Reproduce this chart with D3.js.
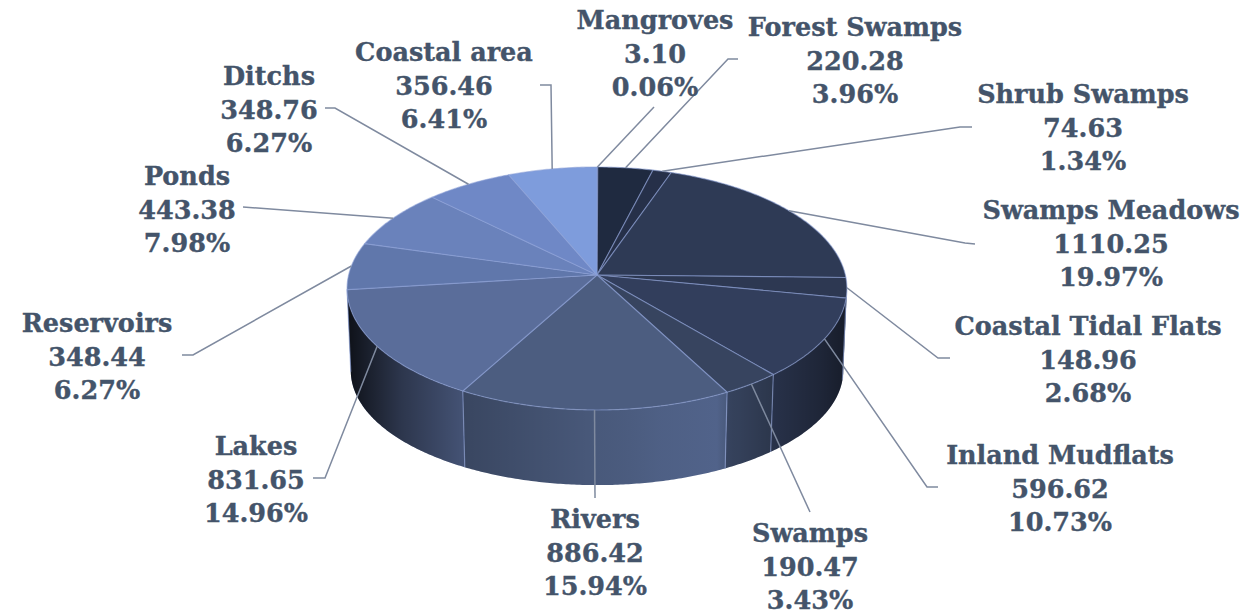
<!DOCTYPE html>
<html lang="en">
<head>
    <meta charset="UTF-8">
    <title>Wetland area by type</title>
    <script src="https://d3js.org/d3.v7.min.js"></script>
    <style>
        html, body { margin: 0; background: #fff; }
        .label text {
            font: bold 25.5px "DejaVu Serif", serif;
            fill: #44546a;
            stroke: #44546a;
            stroke-width: 0.35px;
            text-anchor: middle;
        }
        .leader { fill: none; stroke: #7f8a9f; stroke-width: 1.5px; }
        .wedge { stroke: rgba(140, 160, 215, 0.55); stroke-width: 1.2px; stroke-linejoin: round; }
        .seam { stroke: rgba(140, 160, 215, 0.6); stroke-width: 1.2px; }
    </style>
</head>
<body>
    <div id="chart"></div>
    <script>
        const categories = ["Mangroves", "Forest Swamps", "Shrub Swamps", "Swamps Meadows", "Coastal Tidal Flats",
            "Inland Mudflats", "Swamps", "Rivers", "Lakes", "Reservoirs", "Ponds", "Ditchs", "Coastal area"];
        const areas = [3.10, 220.28, 74.63, 1110.25, 148.96, 596.62, 190.47, 886.42, 831.65, 348.44, 443.38, 348.76, 356.46];
        const shares = ["0.06%", "3.96%", "1.34%", "19.97%", "2.68%", "10.73%", "3.43%", "15.94%", "14.96%", "6.27%", "7.98%", "6.27%", "6.41%"];
        const colors = ["#1f2a40", "#1f2a40", "#263049", "#2e3a55", "#2d3852", "#323e5c", "#37445f",
            "#4c5d80", "#5a6d9a", "#6077ab", "#6a82bb", "#6f88c6", "#7e9cdc"];

        // label centre and first baseline, then the bend(s) of each leader line
        const labelSpots = [[655, 29], [855, 36], [1083, 103], [1111, 219], [1088, 335], [1060, 464], [810, 542],
            [595, 528], [256, 455], [97, 332], [187, 185], [269, 85], [444, 61]];
        const leaderBends = [
            [[654, 107]],
            [[728, 59], [738, 59]],
            [[960, 127], [972, 127]],
            [[965, 243], [975, 244]],
            [[938, 358], [950, 358]],
            [[927, 487], [938, 487]],
            [[810, 512]],
            [[595, 498]],
            [[325, 478], [313, 478]],
            [[193, 355], [182, 355]],
            [[243, 207]],
            [[335, 108], [325, 108]],
            [[551, 85], [540, 85]]
        ];

        const width = 1249, height = 616;
        const lineGap = 33.5;

        // Tilted disc: a circle seen in perspective, so the centre sits above the middle of the ellipse
        const cx = 597, cy = 275, radiusX = 248.4, radiusY = 120, tilt = 0.111;
        const floor = { cy: 358, radiusX: 244.7, radiusY: 113 };
        const project = (angle, disc = { cy, radiusX, radiusY }) => {
            const w = 1 + tilt * Math.cos(angle);
            return [cx + disc.radiusX * Math.sin(angle) / w, disc.cy - disc.radiusY * Math.cos(angle) / w];
        };
        const arcAngles = (a0, a1) => {
            const steps = Math.max(2, Math.ceil((a1 - a0) / 0.01));
            return d3.range(steps + 1).map(i => a0 + (a1 - a0) * i / steps);
        };

        const slices = d3.pie().sort(null)(areas);
        const line = d3.line();

        const svg = d3.select("#chart").append("svg")
            .attr("width", width)
            .attr("height", height)
            .style("display", "block");

        // Side wall shading runs across the whole disc, darkest at the far left,
        // with a faint blue highlight on the front right
        const shade = svg.append("defs").append("linearGradient")
            .attr("id", "wall-shade")
            .attr("gradientUnits", "userSpaceOnUse")
            .attr("x1", cx - 250).attr("x2", cx + 250)
            .attr("y1", 0).attr("y2", 0);
        [[0, "#000", 0.85], [0.04, "#000", 0.72], [0.11, "#000", 0.5], [0.23, "#000", 0.25], [0.5, "#000", 0.04],
            [0.62, "#6f86c8", 0.06], [0.74, "#6f86c8", 0.14], [0.78, "#000", 0.05], [0.85, "#000", 0.2], [0.95, "#000", 0.4], [1, "#000", 0.55]]
            .forEach(([offset, color, opacity]) => shade.append("stop")
                .attr("offset", offset)
                .attr("stop-color", color)
                .attr("stop-opacity", opacity));

        // The wall is visible between the two points where the ellipse turns back
        const wallStart = Math.acos(-tilt);
        const wallEnd = 2 * Math.PI - wallStart;
        const wallPath = (a0, a1) => {
            const angles = arcAngles(a0, a1);
            return line(angles.map(a => project(a)).concat(angles.reverse().map(a => project(a, floor)))) + "Z";
        };

        const walls = svg.append("g");
        slices.forEach(d => {
            const a0 = Math.max(d.startAngle, wallStart);
            const a1 = Math.min(d.endAngle, wallEnd);
            if (a1 <= a0) return;
            walls.append("path")
                .attr("d", wallPath(a0, a1))
                .attr("fill", colors[d.index]);
        });
        walls.append("path")
            .attr("d", wallPath(wallStart, wallEnd))
            .attr("fill", "url(#wall-shade)");

        svg.append("g").selectAll("line")
            .data(slices.filter(d => d.endAngle > wallStart && d.endAngle < wallEnd))
            .enter().append("line")
            .attr("class", "seam")
            .attr("x1", d => project(d.endAngle)[0])
            .attr("y1", d => project(d.endAngle)[1])
            .attr("x2", d => project(d.endAngle, floor)[0])
            .attr("y2", d => project(d.endAngle, floor)[1]);

        // Top face
        svg.append("g").selectAll("path")
            .data(slices)
            .enter().append("path")
            .attr("class", "wedge")
            .attr("fill", d => colors[d.index])
            .attr("d", d => line([[cx, cy]].concat(arcAngles(d.startAngle, d.endAngle).map(a => project(a)))) + "Z");

        // Leader lines start on the rim at the middle of each slice
        svg.append("g").selectAll("path")
            .data(slices)
            .enter().append("path")
            .attr("class", "leader")
            .attr("d", d => line([project((d.startAngle + d.endAngle) / 2)].concat(leaderBends[d.index])));

        const labels = svg.append("g").selectAll("g")
            .data(categories)
            .enter().append("g")
            .attr("class", "label");
        labels.each(function (name, i) {
            const [x, y] = labelSpots[i];
            [name, areas[i].toFixed(2), shares[i]].forEach((text, row) => {
                d3.select(this).append("text")
                    .attr("x", x)
                    .attr("y", y + row * lineGap)
                    .text(text);
            });
        });
    </script>
</body>
</html>
